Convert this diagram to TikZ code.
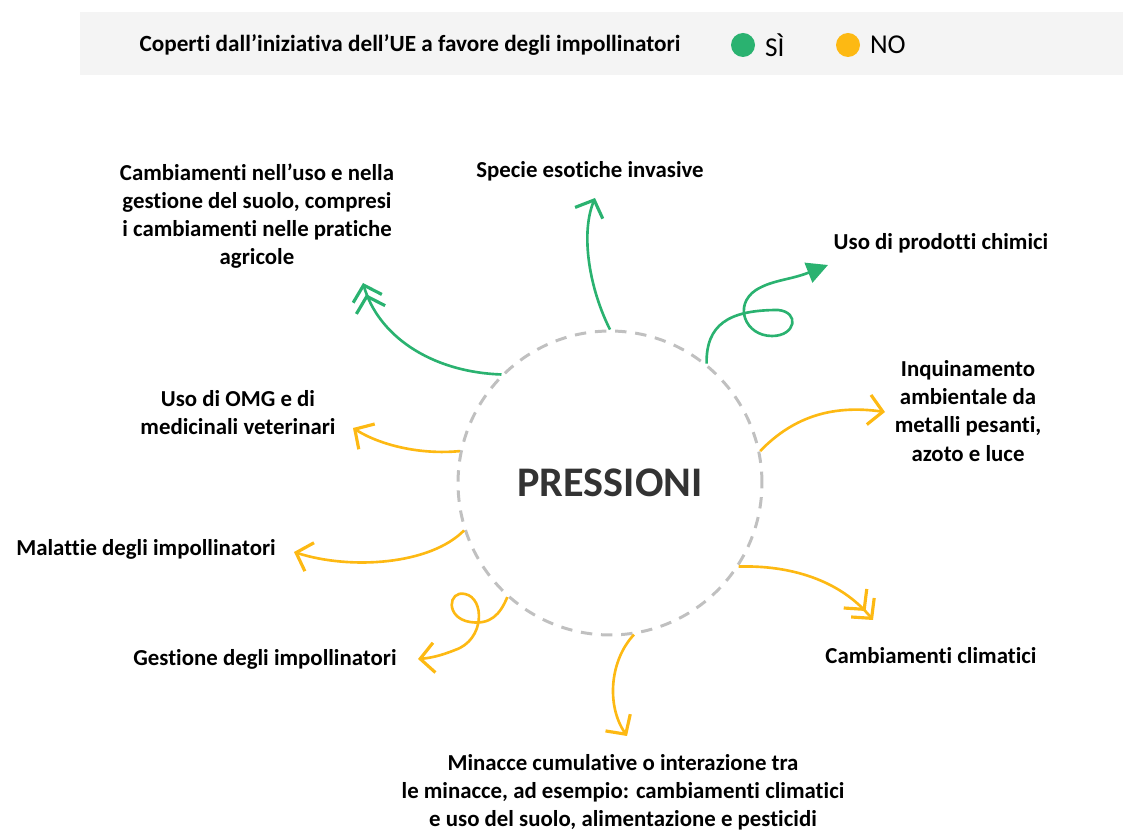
\documentclass[tikz,border=0pt]{standalone}
\usepackage{fontspec}
\setmainfont[Ligatures=NoCommon]{Carlito}
\usetikzlibrary{arrows.meta,positioning}
\definecolor{sigreen}{RGB}{42,178,112}
\definecolor{noyellow}{RGB}{253,185,19}
\definecolor{bandgray}{RGB}{244,244,244}
\definecolor{ringgray}{RGB}{192,192,192}

\begin{document}
\begin{tikzpicture}[
  x=0.02cm, y=-0.02cm,
  lbl/.style={font=\fontsize{13}{16}\selectfont\bfseries, align=center, inner sep=0pt},
  dot/.style={circle, inner sep=0pt, minimum size=0.48cm},
  yes/.style={draw=sigreen, line width=1.5pt},
  no/.style={draw=noyellow, line width=1.5pt},
  chev/.style={-{Straight Barb[length=8pt,width=17pt,line width=1.8pt]}},
  chevtwo/.style={-{Straight Barb[length=8pt,width=17pt,line width=1.8pt,sep=-3.5pt] Straight Barb[length=8pt,width=17pt,line width=1.8pt]}},
  tri/.style={-{Triangle[length=12pt,width=12pt]}}
]
\useasboundingbox (0,0) rectangle (1123,830);

\fill[bandgray] (80,12) rectangle (1123,75);
\node[font=\fontsize{13.2}{15}\selectfont\bfseries] (legtxt) at (410,45) {Coperti dall’iniziativa dell’UE a favore degli impollinatori};
\node[dot, fill=sigreen] (dsi) at (743,45) {};
\node[font=\fontsize{15.5}{17}\selectfont, right=2pt of dsi] (tsi) {SÌ};
\node[dot, fill=noyellow] (dno) at (848,45) {};
\node[font=\fontsize{15.5}{17}\selectfont, right=2pt of dno] (tno) {NO};

\node[circle, draw=ringgray, dash pattern=on 6.5pt off 5pt, line width=1.7pt,
  minimum size=6.08cm, font=\fontsize{24}{28}\selectfont\bfseries, text=black!80] (press) at (610,483) {PRESSIONI};

\node[lbl] (suolo) at (257,216) {Cambiamenti nell’uso e nella\\gestione del suolo, compresi\\i cambiamenti nelle pratiche\\agricole};
\node[lbl] (specie) at (590,171) {Specie esotiche invasive};
\node[lbl] (chimici) at (941,243) {Uso di prodotti chimici};
\node[lbl] (inquin) at (968,411) {Inquinamento\\ambientale da\\metalli pesanti,\\azoto e luce};
\node[lbl] (omg) at (238,413) {Uso di OMG e di\\medicinali veterinari};
\node[lbl] (malattie) at (146,549) {Malattie degli impollinatori};
\node[lbl] (gestione) at (265,659) {Gestione degli impollinatori};
\node[lbl] (clima) at (931,656) {Cambiamenti climatici};
\node[lbl] (minacce) at (623,792) {Minacce cumulative o interazione tra\\le minacce, ad esempio: cambiamenti climatici\\e uso del suolo, alimentazione e pesticidi};

\coordinate (tsuolo) at (363,283);
\coordinate (tspecie) at (595,198);
\coordinate (tchimici) at (828,265);
\coordinate (tinquin) at (885,412);
\coordinate (tomg) at (353,428);
\coordinate (tmalattie) at (294,552);
\coordinate (tgestione) at (418,659);
\coordinate (tminacce) at (627,736);
\coordinate (tclima) at (873,620);

\draw[yes, chevtwo] (press.135) .. controls (430,372) and (378,335) .. (tsuolo);
\draw[yes, chev] (press.90) .. controls (590,290) and (580,235) .. (tspecie);
\draw[yes, tri] (press.51) .. controls (706,325) and (728,310) .. (778,310)
  .. controls (800,312) and (796,336) .. (772,336)
  .. controls (745,336) and (733,305) .. (756,290)
  .. controls (772,280) and (790,280) .. (tchimici);
\draw[no, chev] (press.12) .. controls (795,415) and (835,405) .. (tinquin);
\draw[no, chev] (press.168) .. controls (420,455) and (380,445) .. (tomg);
\draw[no, chev] (press.198) .. controls (430,565) and (350,570) .. (tmalattie);
\draw[no, chev] (press.228) .. controls (500,615) and (490,625) .. (470,622)
  .. controls (445,618) and (448,590) .. (465,594)
  .. controls (485,598) and (485,640) .. (455,650)
  .. controls (440,656) and (430,658) .. (tgestione);
\draw[no, chev] (press.279) .. controls (610,660) and (606,705) .. (tminacce);
\draw[no, chevtwo] (press.327) .. controls (790,565) and (840,580) .. (tclima);
\end{tikzpicture}
\end{document}
